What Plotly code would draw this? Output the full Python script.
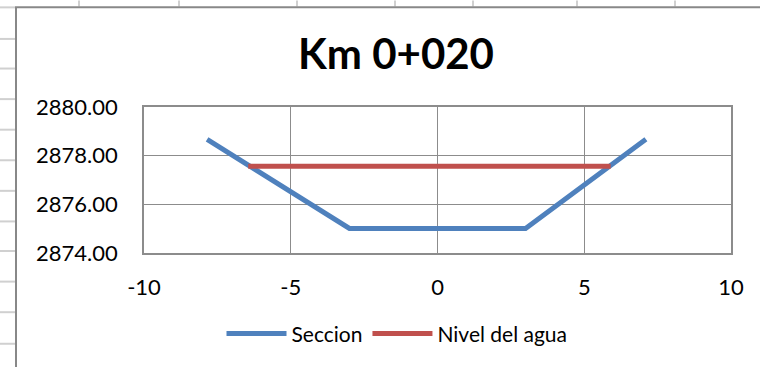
import plotly.graph_objects as go

# ---- data ----
seccion_x = [-7.85, -3.0, 3.0, 7.1]
seccion_y = [2878.67, 2875.01, 2875.01, 2878.67]
nivel_x = [-6.45, 5.9]
nivel_y = [2877.56, 2877.56]
x_ticks = [-10, -5, 0, 5, 10]
x_tick_labels = ["-10", "-5", "0", "5", "10"]
y_ticks = [2874, 2876, 2878, 2880]
title_text = "Km 0+020"
series_names = ["Seccion", "Nivel del agua"]

# ---- layout geometry (pixels) ----
W, H = 760, 367
L, R, T, B = 144, 731, 107, 255  # plot area edges


def px(xp):
    return (xp - L) / (R - L)


def py(yp):
    return (B - yp) / (B - T)


FONT = "Lato"
GRID = "#8c8c8c"
SHEET = "#d0d0d0"
BORDER = "#888888"

fig = go.Figure()
fig.add_trace(go.Scatter(x=seccion_x, y=seccion_y, mode="lines", name=series_names[0],
                         line=dict(color="#4F81BD", width=5)))
fig.add_trace(go.Scatter(x=nivel_x, y=nivel_y, mode="lines", name=series_names[1],
                         line=dict(color="#C0504D", width=5)))

shapes = []
# spreadsheet background grid (outside chart)
for xv in [79, 179, 297, 395, 473, 577, 675]:
    shapes.append(dict(type="line", xref="paper", yref="paper", x0=px(xv), x1=px(xv),
                       y0=py(-1), y1=py(5), line=dict(color=SHEET, width=2)))
for yv in [6, 38, 68, 99, 130, 161, 192, 223, 253, 284, 315, 347]:
    shapes.append(dict(type="line", xref="paper", yref="paper", x0=px(-1), x1=px(15),
                       y0=py(yv), y1=py(yv), line=dict(color=SHEET, width=2)))
# chart area border
shapes.append(dict(type="line", xref="paper", yref="paper", x0=px(15), x1=px(770),
                   y0=py(6), y1=py(6), line=dict(color=BORDER, width=2)))
shapes.append(dict(type="line", xref="paper", yref="paper", x0=px(16), x1=px(16),
                   y0=py(6), y1=py(380), line=dict(color=BORDER, width=2)))

fig.update_layout(
    width=W, height=H,
    margin=dict(l=L, r=W - R, t=T, b=H - B, pad=0),
    paper_bgcolor="white", plot_bgcolor="white",
    font=dict(family=FONT, color="black"),
    title=dict(text=f"<b>{title_text}</b>", x=px(396), xref="paper", xanchor="center",
               y=1 - 54 / H, yref="container", yanchor="middle",
               font=dict(family=FONT, size=42, color="black")),
    xaxis=dict(range=[-10, 10], tickvals=x_ticks, ticktext=x_tick_labels, showgrid=True,
               gridcolor=GRID, gridwidth=1,
               showline=True, linecolor=GRID, linewidth=1.5, mirror=True, zeroline=False,
               ticks="", ticklabelstandoff=14, tickfont=dict(size=22, family=FONT)),
    yaxis=dict(range=[2874, 2880], tickvals=y_ticks, tickformat=".2f", showgrid=True,
               gridcolor=GRID, gridwidth=1, showline=True, linecolor=GRID, linewidth=1.5,
               mirror=True, zeroline=False, ticks="", ticklabelstandoff=20,
               tickfont=dict(size=22, family=FONT)),
    legend=dict(orientation="h", x=px(397), xanchor="center", y=py(337), yanchor="middle",
                font=dict(size=21, family=FONT), itemwidth=60,
                bgcolor="rgba(0,0,0,0)"),
    shapes=shapes,
)

fig.write_html("out.html", config={"displayModeBar": False},
               post_script="document.body.style.margin='0';")
